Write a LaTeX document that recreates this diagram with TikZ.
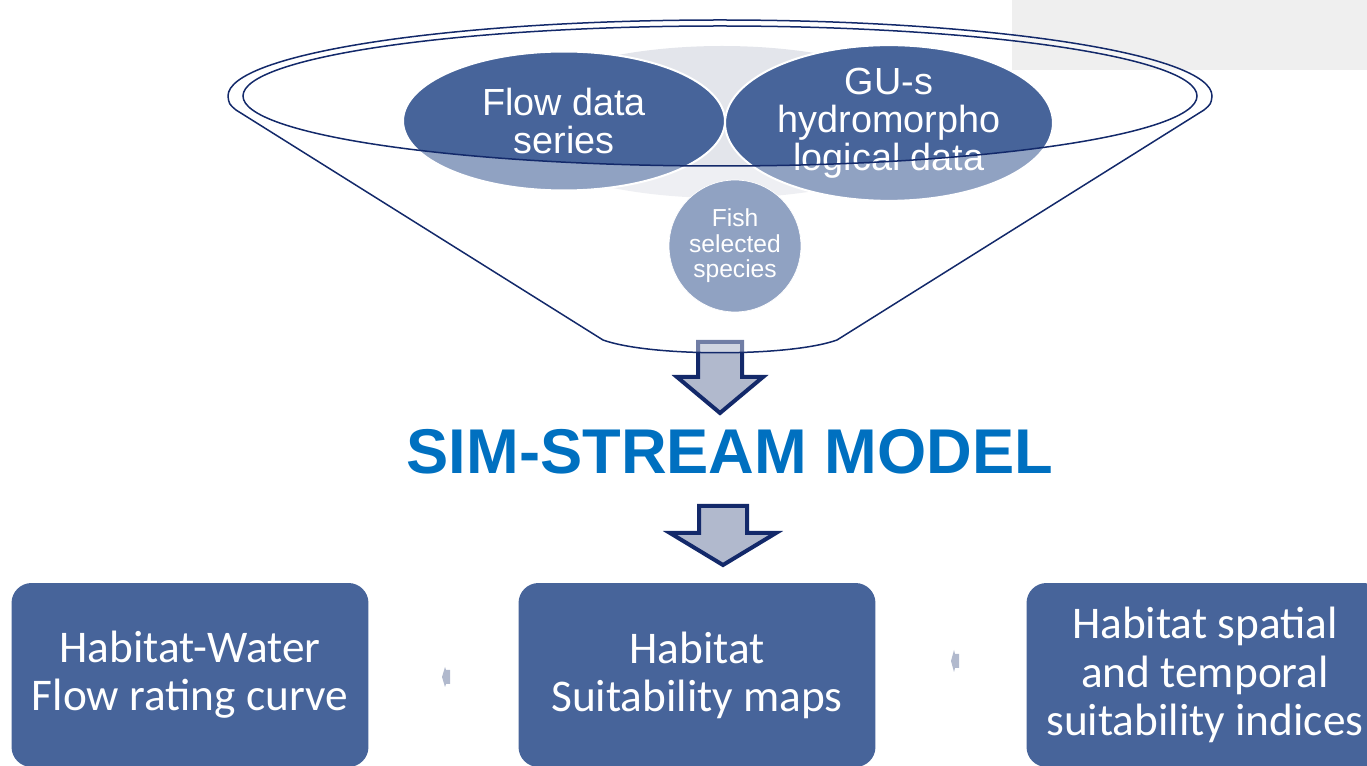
\documentclass[tikz,border=0pt]{standalone}
\usepackage{fontspec}
\setmainfont{Liberation Sans}
\newfontfamily\boxfont{Carlito}
\usetikzlibrary{shapes.geometric}

\definecolor{navy}{HTML}{13296A}
\definecolor{deepblue}{HTML}{47649A}
\definecolor{arrowfill}{HTML}{B1B9CD}
\definecolor{titleblue}{HTML}{0070C0}
\definecolor{lensgray}{HTML}{E3E5EB}
\definecolor{panelgray}{HTML}{EFEFEF}

\begin{document}
\begin{tikzpicture}[x=0.02cm, y=-0.02cm,
    rim/.style={navy, line width=0.03cm},
    blob/.style={ellipse, fill=deepblue, draw=white, line width=0.04cm, minimum height=2.78cm,
      inner sep=0pt, text=white, align=center, font=\fontsize{21.5}{21.6}\selectfont},
    outbox/.style={rounded corners=0.4cm, fill=deepblue, minimum width=7.14cm, minimum height=3.68cm,
      text=white, align=center, font=\boxfont\fontsize{25.8}{27.4}\selectfont},
    blockarrow/.style={draw=navy, line width=0.08cm, fill=arrowfill, line join=miter},
    tinyarrow/.style={fill=arrowfill}]
      \clip (0,0) rectangle (1367,766);
      \fill[panelgray] (1012,0) rectangle (1367,70);
      \fill[lensgray] (722,122) ellipse [x radius=220, y radius=76];
      \node[blob, minimum width=6.44cm] (flow) at (564,121) {Flow data\\series};
      \node[blob, minimum width=6.56cm] (gus) at (889,123) {GU-s\\hydromorpho\\logical data};
      \node[circle, fill=deepblue, draw=white, minimum size=2.64cm, inner sep=0pt, text=white, align=center,
        font=\fontsize{14}{14.5}\selectfont] (fish) at (735,246) {Fish\\selected\\species};
      \draw[blockarrow] (698,342) -- (742,342) -- (742,377) -- (763,377) -- (720,413)
        -- (677,377) -- (698,377) -- cycle;
      % funnel body lightens what lies under it
      \fill[white, fill opacity=0.4, even odd rule]
        (228,96) arc [start angle=180, end angle=360, x radius=492, y radius=76]
        .. controls (1211,104) .. (1204,110) -- (837,340)
        .. controls (790,357) and (650,357) .. (603,340) -- (236,110)
        .. controls (229,104) .. (228,96)
        (720,96) ellipse [x radius=477, y radius=70];
      \draw[rim] (228,96) arc [start angle=180, end angle=360, x radius=492, y radius=76]
        .. controls (1211,104) .. (1204,110) -- (837,340)
        .. controls (790,357) and (650,357) .. (603,340) -- (236,110)
        .. controls (229,104) .. (228,96);
      \draw[rim] (720,96) ellipse [x radius=477, y radius=70];
      \node[text=titleblue, font=\bfseries\fontsize{36}{36}\selectfont] (title) at (730,452) {SIM-STREAM MODEL};
      \draw[blockarrow] (699,506) -- (747,506) -- (747,533) -- (776,533) -- (723,565)
        -- (670,533) -- (699,533) -- cycle;
      \node[outbox] (curve) at (190,675) {Habitat-Water\\Flow rating curve};
      \node[outbox] (maps) at (697,675) {Habitat\\Suitability maps};
      \node[outbox] (indices) at (1205,675) {Habitat spatial\\and temporal\\suitability indices};
      \fill[tinyarrow] (450,670) -- (450,684) -- (446,684) -- (445,687) -- (442,677)
        -- (445,667) -- (446,670) -- cycle;
      \fill[tinyarrow] (959,654) -- (959,668) -- (955,668) -- (954,672) -- (951,661)
        -- (954,650) -- (955,654) -- cycle;
\end{tikzpicture}
\end{document}
